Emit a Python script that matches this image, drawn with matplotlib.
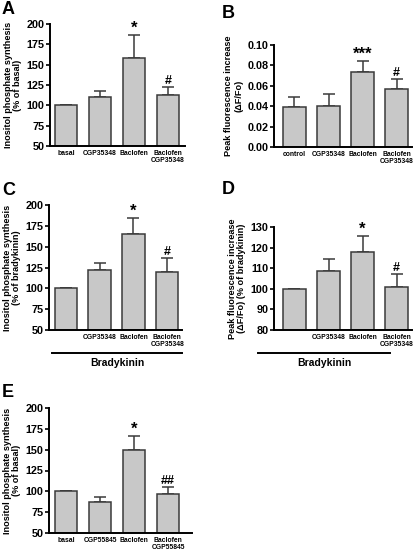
import matplotlib
matplotlib.use("Agg")
import matplotlib.pyplot as plt
import numpy as np

plt.rcParams['font.family'] = ['Liberation Sans', 'DejaVu Sans']
plt.rcParams['font.weight'] = 'bold'

# panel data (mean, upper error end)
a_labels = ["basal", "CGP35348", "Baclofen", "Baclofen\nCGP35348"]
a_means = [100, 110, 158, 113]
a_err = [0, 8, 28, 10]
a_marks = ["", "", "*", "#"]

b_labels = ["control", "CGP35348", "Baclofen", "Baclofen\nCGP35348"]
b_means = [0.039, 0.040, 0.074, 0.057]
b_err = [0.010, 0.012, 0.010, 0.010]
b_marks = ["", "", "***", "#"]

c_labels = ["", "CGP35348", "Baclofen", "Baclofen\nCGP35348"]
c_means = [100, 122, 165, 120]
c_err = [0, 8, 19, 16]
c_marks = ["", "", "*", "#"]

d_labels = ["", "CGP35348", "Baclofen", "Baclofen\nCGP35348"]
d_means = [100, 108.5, 118, 100.8]
d_err = [0, 6, 7.5, 6.5]
d_marks = ["", "", "*", "#"]

e_labels = ["basal", "CGP55845", "Baclofen", "Baclofen\nCGP55845"]
e_means = [100, 87, 150, 97]
e_err = [0, 6, 16, 8]
e_marks = ["", "", "*", "##"]

W, H = 415, 550
fig = plt.figure(figsize=(W / 100, H / 100), dpi=100)


def px_axes(left, right, top, bottom):
    return fig.add_axes([left / W, 1 - bottom / H, (right - left) / W, (bottom - top) / H])


def panel(box, labels, means, err, marks, ylim, yticks, ylabel, xlim, fmt="%d"):
    ax = px_axes(*box)
    x = np.arange(len(means))
    ax.bar(x, np.array(means) - ylim[0], bottom=ylim[0], width=0.66,
           color="#c8c8c8", edgecolor="#3a3a3a", linewidth=1.1, zorder=2)
    ax.errorbar(x, means, yerr=[np.zeros(len(err)), err], fmt="none",
                ecolor="#3a3a3a", elinewidth=1.1, capsize=4, capthick=1.1, zorder=1)
    for xi, m, e, s in zip(x, means, err, marks):
        if s:
            if "*" in s:
                ax.text(xi, m + e, s, ha="center", va="bottom", fontsize=12,
                        fontweight="bold")
            else:
                ax.text(xi, m + e, s, ha="center", va="bottom", fontsize=9,
                        fontweight="bold")
    ax.set_xlim(*xlim)
    ax.set_ylim(*ylim)
    ax.set_yticks(yticks)
    ax.set_yticklabels([fmt % t for t in yticks])
    ax.set_xticks(x)
    ax.set_xticklabels(labels, fontsize=4.9, fontweight="bold", linespacing=1.0)
    ax.tick_params(axis="y", labelsize=7.8, length=3, width=1.2, pad=1)
    ax.tick_params(axis="x", length=0, pad=3)
    for s in ["top", "right"]:
        ax.spines[s].set_visible(False)
    for s in ["left", "bottom"]:
        ax.spines[s].set_linewidth(1.4)
    ax.set_ylabel(ylabel, fontsize=6.6, fontweight="bold", linespacing=1.1, labelpad=3)
    return ax


axA = panel((50, 185, 24, 146), a_labels, a_means, a_err, a_marks, (50, 200),
            [50, 75, 100, 125, 150, 175, 200],
            "Inositol phosphate synthesis\n(% of basal)", (-0.47, 3.5))
axB = panel((274, 412, 45, 147), b_labels, b_means, b_err, b_marks, (0, 0.10),
            [0.0, 0.02, 0.04, 0.06, 0.08, 0.10],
            "Peak fluorescence increase\n(\u0394F/Fo)", (-0.6, 3.45), fmt="%.2f")
axC = panel((49, 182, 205, 330), c_labels, c_means, c_err, c_marks, (50, 200),
            [50, 75, 100, 125, 150, 175, 200],
            "Inositol phosphate synthesis\n(% of bradykinin)", (-0.5, 3.44))
axD = panel((274, 412, 227, 330), d_labels, d_means, d_err, d_marks, (80, 130),
            [80, 90, 100, 110, 120, 130],
            "Peak fluorescence increase\n(\u0394F/Fo) (% of bradykinin)", (-0.6, 3.45))
axE = panel((49, 192, 408, 533), e_labels, e_means, e_err, e_marks, (50, 200),
            [50, 75, 100, 125, 150, 175, 200],
            "Inositol phosphate synthesis\n(% of basal)", (-0.5, 3.7))

# Bradykinin brackets under C and D
for x0, x1 in [(52, 182), (258, 390)]:
    fig.add_artist(plt.Line2D([x0 / W, x1 / W], [1 - 353 / H] * 2, color="black", lw=1.4))
    fig.text((x0 + x1) / 2 / W, 1 - 358 / H, "Bradykinin", ha="center", va="top",
             fontsize=7.5, fontweight="bold")

# panel letters
for lab, x, y in [("A", 2, 1), ("B", 222, 5), ("C", 2, 182), ("D", 222, 181), ("E", 2, 384)]:
    fig.text(x / W, 1 - y / H, lab, ha="left", va="top", fontsize=13, fontweight="bold")

fig.savefig("out.png", dpi=100)
